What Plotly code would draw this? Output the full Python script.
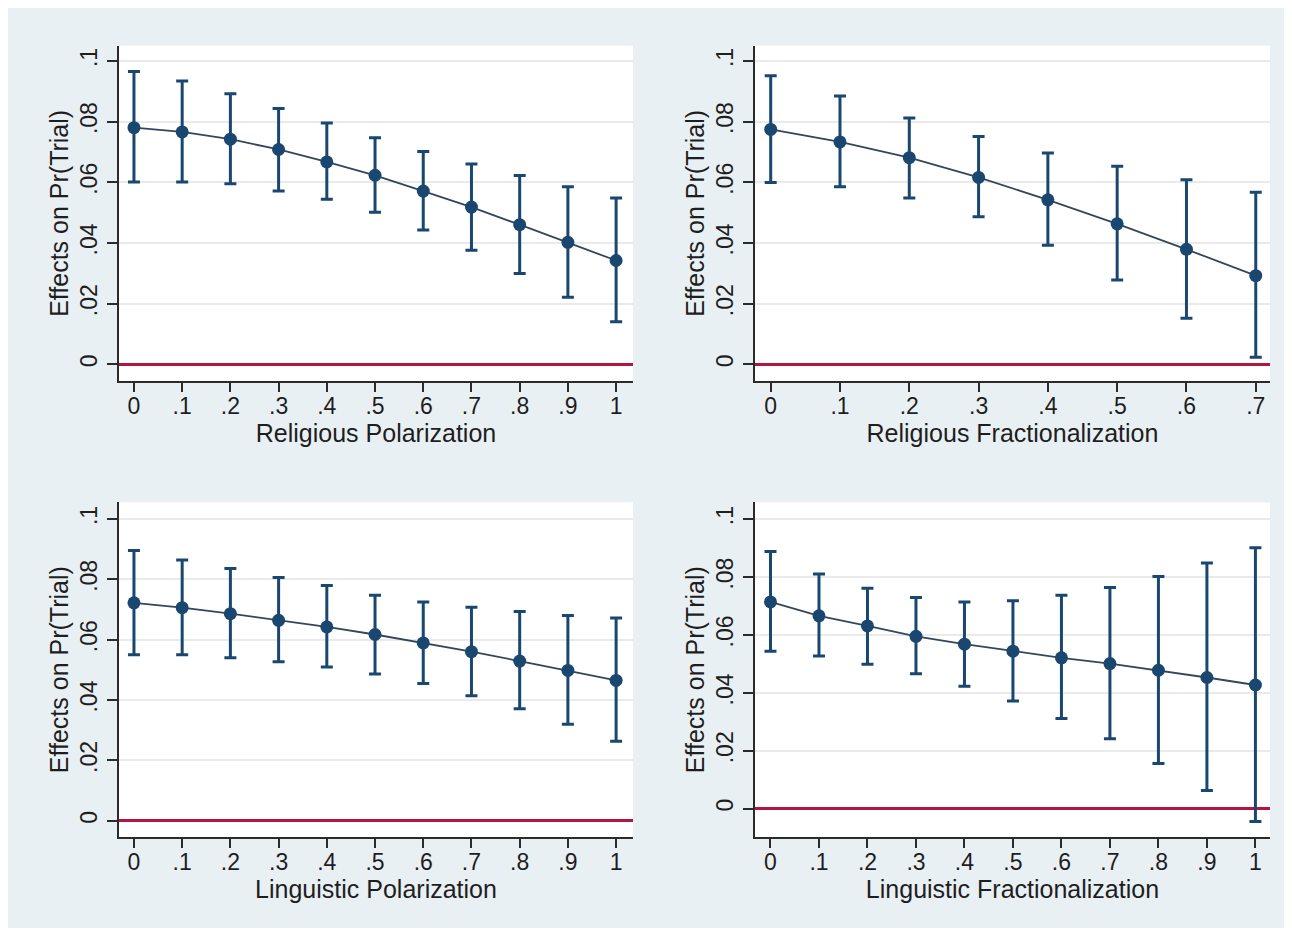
import plotly.graph_objects as go
from plotly.subplots import make_subplots

# ---- data ----
x_full = [0, 0.1, 0.2, 0.3, 0.4, 0.5, 0.6, 0.7, 0.8, 0.9, 1.0]
x_relfrac = [0, 0.1, 0.2, 0.3, 0.4, 0.5, 0.6, 0.7]

tick_full = [".1", ".2", ".3", ".4", ".5", ".6", ".7", ".8", ".9"]
xticktext_full = ["0"] + tick_full + ["1"]
xticktext_relfrac = ["0", ".1", ".2", ".3", ".4", ".5", ".6", ".7"]
yticks = [0, 0.02, 0.04, 0.06, 0.08, 0.1]
yticktext = ["0", ".02", ".04", ".06", ".08", ".1"]

# Religious Polarization
relpol_est = [0.0780, 0.0766, 0.0742, 0.0708, 0.0667, 0.0623, 0.0571, 0.0518, 0.0460, 0.0402, 0.0342]
relpol_hi = [0.0965, 0.0934, 0.0892, 0.0843, 0.0795, 0.0747, 0.0701, 0.0660, 0.0622, 0.0585, 0.0548]
relpol_lo = [0.0601, 0.0601, 0.0595, 0.0571, 0.0544, 0.0501, 0.0443, 0.0376, 0.0299, 0.0221, 0.0140]

# Religious Fractionalization
relfrac_est = [0.0774, 0.0733, 0.0681, 0.0616, 0.0542, 0.0463, 0.0379, 0.0292]
relfrac_hi = [0.0951, 0.0884, 0.0812, 0.0751, 0.0696, 0.0653, 0.0608, 0.0567]
relfrac_lo = [0.0599, 0.0585, 0.0548, 0.0486, 0.0392, 0.0278, 0.0152, 0.0023]

# Linguistic Polarization
lingpol_est = [0.0722, 0.0706, 0.0686, 0.0664, 0.0642, 0.0617, 0.0589, 0.0560, 0.0529, 0.0498, 0.0465]
lingpol_hi = [0.0895, 0.0864, 0.0836, 0.0806, 0.0779, 0.0747, 0.0725, 0.0707, 0.0693, 0.0680, 0.0672]
lingpol_lo = [0.0550, 0.0550, 0.0540, 0.0527, 0.0509, 0.0486, 0.0455, 0.0414, 0.0371, 0.0320, 0.0263]

# Linguistic Fractionalization
lingfrac_est = [0.0714, 0.0666, 0.0631, 0.0595, 0.0568, 0.0544, 0.0521, 0.0501, 0.0478, 0.0453, 0.0427]
lingfrac_hi = [0.0888, 0.0810, 0.0761, 0.0729, 0.0714, 0.0718, 0.0737, 0.0764, 0.0802, 0.0848, 0.0901]
lingfrac_lo = [0.0544, 0.0527, 0.0499, 0.0466, 0.0423, 0.0372, 0.0311, 0.0241, 0.0156, 0.0063, -0.0044]

panels = [
    (x_full, relpol_est, relpol_lo, relpol_hi, "Religious Polarization", xticktext_full, 1, 1),
    (x_relfrac, relfrac_est, relfrac_lo, relfrac_hi, "Religious Fractionalization", xticktext_relfrac, 1, 2),
    (x_full, lingpol_est, lingpol_lo, lingpol_hi, "Linguistic Polarization", xticktext_full, 2, 1),
    (x_full, lingfrac_est, lingfrac_lo, lingfrac_hi, "Linguistic Fractionalization", xticktext_full, 2, 2),
]

NAVY = "#1a476f"
LINE = "#34475a"
RED = "#b3153f"
AX = "#2b2b2b"
TXT = "#1e1e1e"
FONT = "Liberation Sans, Arial, sans-serif"

fig = make_subplots(rows=2, cols=2)

xranges = {
    (1, 1): [-0.031, 1.035], (1, 2): [-0.0227, 0.7205],
    (2, 1): [-0.031, 1.035], (2, 2): [-0.032, 1.03],
}
yranges = {
    (1, 1): [-0.0055, 0.105], (1, 2): [-0.0055, 0.105],
    (2, 1): [-0.0054, 0.1055], (2, 2): [-0.0098, 0.1058],
}
xdom = {1: [0.0870, 0.4898], 2: [0.5854, 0.9890]}
ydom = {1: [0.5946, 0.9590], 2: [0.0989, 0.4627]}

for xs, est, lo, hi, title, xtt, r, c in panels:
    plus = [h - e for h, e in zip(hi, est)]
    minus = [e - l for e, l in zip(est, lo)]
    fig.add_trace(
        go.Scatter(
            x=xs, y=est, mode="lines+markers",
            line=dict(color=LINE, width=1.8),
            marker=dict(color=NAVY, size=13),
            error_y=dict(type="data", symmetric=False, array=plus, arrayminus=minus,
                         color=NAVY, thickness=3, width=6),
            showlegend=False, hoverinfo="skip",
        ),
        row=r, col=c,
    )
    fig.update_xaxes(
        row=r, col=c, domain=xdom[c], range=xranges[(r, c)],
        tickmode="array", tickvals=xs, ticktext=xtt,
        ticks="outside", ticklen=9, tickwidth=1.5, tickcolor=AX,
        showline=True, linecolor=AX, linewidth=1.5, showgrid=False, zeroline=False,
        tickfont=dict(family=FONT, size=23, color=TXT),
        title=dict(text=title, font=dict(family=FONT, size=25, color=TXT), standoff=2),
        automargin=False, fixedrange=True, ticklabelstandoff=-5,
    )
    fig.update_yaxes(
        row=r, col=c, domain=ydom[r], range=yranges[(r, c)],
        tickmode="array", tickvals=yticks, ticktext=yticktext, tickangle=-90,
        ticks="outside", ticklen=10, tickwidth=1.5, tickcolor=AX,
        showline=True, linecolor=AX, linewidth=1.5,
        showgrid=True, gridcolor="#eaeaea", gridwidth=1.5,
        zeroline=True, zerolinecolor=RED, zerolinewidth=3,
        tickfont=dict(family=FONT, size=23, color=TXT),
        title=dict(text="Effects on Pr(Trial)", font=dict(family=FONT, size=25, color=TXT), standoff=0),
        automargin=False, fixedrange=True, ticklabelstandoff=1,
    )

fig.update_layout(
    width=1276, height=920,
    margin=dict(l=0, r=0, t=0, b=0),
    paper_bgcolor="#e9f0f4",
    plot_bgcolor="#ffffff",
    font=dict(family=FONT, color=TXT),
)

fig.write_html("out.html")
